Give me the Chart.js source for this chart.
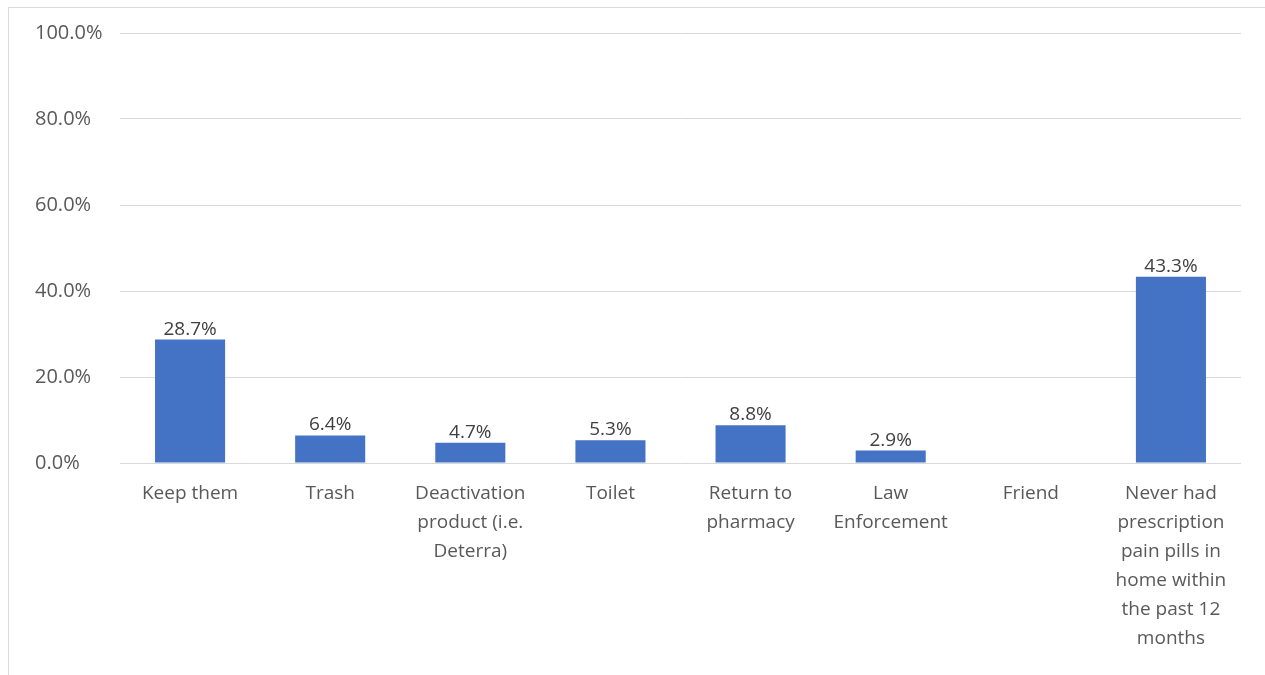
<!DOCTYPE html>
<html>
<head>
<meta charset="utf-8">
<script src="https://cdn.jsdelivr.net/npm/chart.js@4"></script>
<style>
  html, body { margin: 0; padding: 0; background: #fff; overflow: hidden; }
  #frame { position: absolute; left: 8px; top: 7px; width: 1400px; height: 800px; border: 1px solid #d9d9d9; }
  #wrap { position: absolute; left: 0; top: 0; width: 1265px; height: 675px; }
</style>
</head>
<body>
<div id="frame"></div>
<div id="wrap"><canvas id="c"></canvas></div>
<script>
// ── Veri ─────────────────────────────────────────────────────
var categories = [
  'Keep them',
  'Trash',
  ['Deactivation', 'product (i.e.', 'Deterra)'],
  'Toilet',
  ['Return to', 'pharmacy'],
  ['Law', 'Enforcement'],
  'Friend',
  ['Never had', 'prescription', 'pain pills in', 'home within', 'the past 12', 'months']
];
var shares = [28.7, 6.4, 4.7, 5.3, 8.8, 2.9, null, 43.3];
var yTicks = [0, 20, 40, 60, 80, 100];

var FONT = '"Open Sans", sans-serif';

// ── Bar üstü etiketler ───────────────────────────────────────
var barLabels = {
  id: 'barLabels',
  afterDatasetsDraw: function(chart) {
    var ctx = chart.ctx;
    var meta = chart.getDatasetMeta(0);
    ctx.save();
    ctx.font = '19px ' + FONT;
    ctx.fillStyle = '#404040';
    ctx.textAlign = 'center';
    ctx.textBaseline = 'alphabetic';
    meta.data.forEach(function(bar, i) {
      var v = shares[i];
      if (v === null || v === undefined) return;
      ctx.fillText(v.toFixed(1) + '%', bar.x, bar.y - 5);
    });
    ctx.restore();
  }
};

new Chart(document.getElementById('c'), {
  type: 'bar',
  data: {
    labels: categories,
    datasets: [{
      data: shares,
      backgroundColor: '#4472C4',
      barPercentage: 0.5,
      categoryPercentage: 1.0
    }]
  },
  options: {
    responsive: true,
    maintainAspectRatio: false,
    animation: false,
    layout: { padding: { left: 35, right: 24, top: 33, bottom: 0 } },
    plugins: {
      legend: { display: false },
      tooltip: { enabled: false }
    },
    scales: {
      x: {
        grid: { display: false, drawTicks: false },
        border: { display: false },
        ticks: {
          color: '#595959',
          font: { size: 19, family: FONT, lineHeight: 29 / 19 },
          padding: 16,
          maxRotation: 0,
          autoSkip: false
        },
        afterFit: function(s) { s.height = 212; s.paddingLeft = 0; s.paddingRight = 0; }
      },
      y: {
        min: 0,
        max: 100,
        afterBuildTicks: function(s) { s.ticks = yTicks.map(function(v) { return { value: v }; }); },
        grid: { color: '#d9d9d9', lineWidth: 1, drawTicks: false },
        border: { display: false },
        ticks: {
          color: '#595959',
          font: { size: 20, family: FONT },
          crossAlign: 'far',
          padding: 27,
          callback: function(v) { return v.toFixed(1) + '%'; }
        },
        afterFit: function(s) { s.width = 85; s.paddingTop = 0; s.paddingBottom = 0; }
      }
    }
  },
  plugins: [barLabels]
});
</script>
</body>
</html>
